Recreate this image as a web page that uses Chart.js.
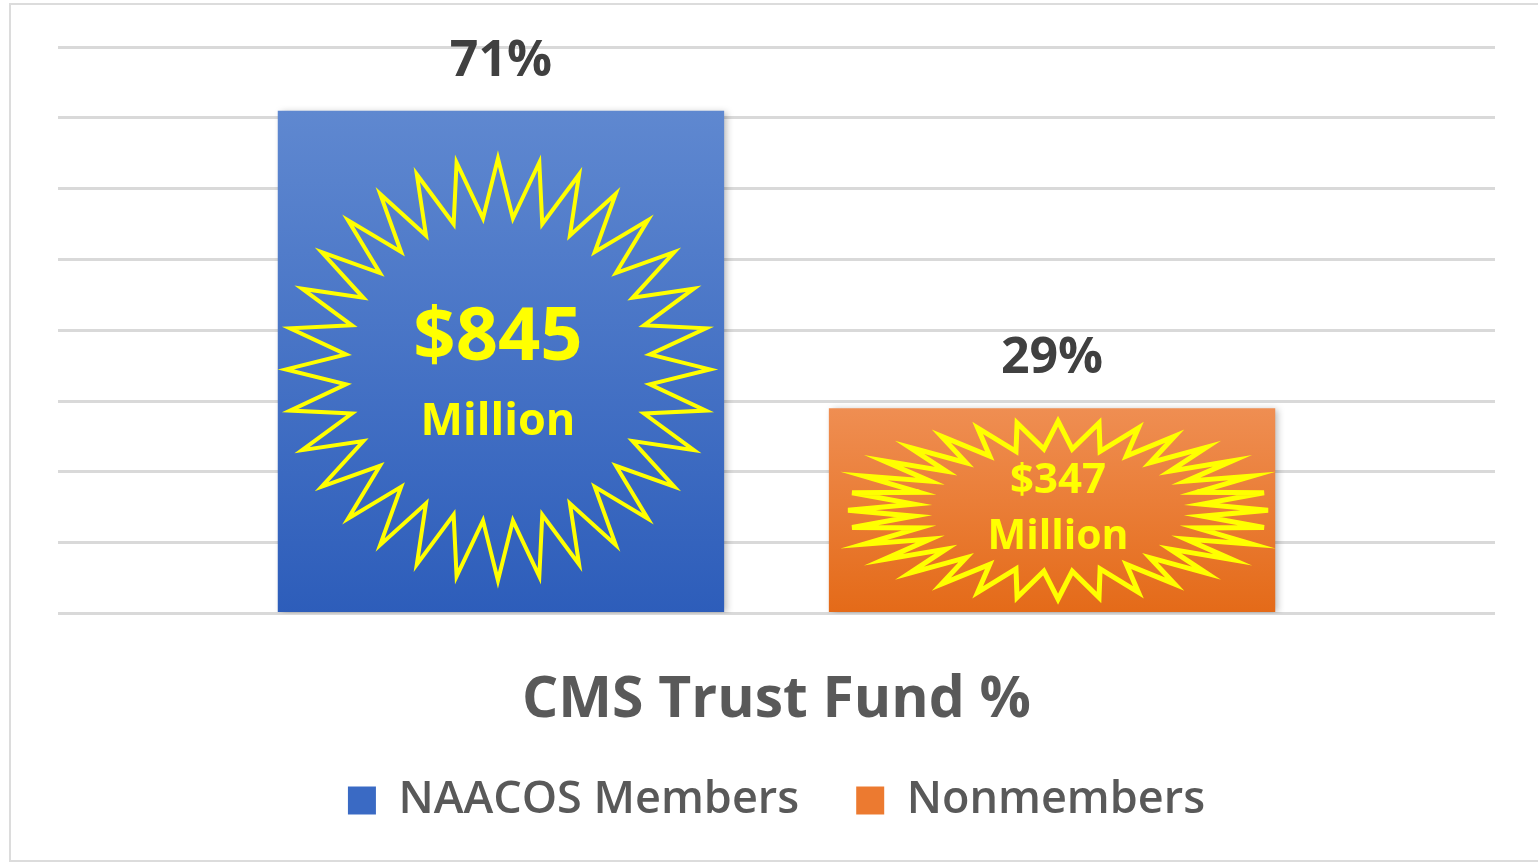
<!DOCTYPE html>
<html>
<head>
<meta charset="utf-8">
<script src="https://cdn.jsdelivr.net/npm/chart.js@4"></script>
<style>
  html, body { margin: 0; padding: 0; background: #ffffff; }
  #wrap { position: absolute; left: 0; top: 0; width: 1538px; height: 863px; }
</style>
</head>
<body>
<div id="wrap"><canvas id="myChart"></canvas></div>
<script>
// data
const categories = ["CMS Trust Fund %"];
const seriesNames = ["NAACOS Members", "Nonmembers"];
const members = [71];
const nonmembers = [29];
const burstAmounts = ["$845", "$347"];
const burstUnit = "Million";

const fontNaam = "'Open Sans', 'DejaVu Sans', sans-serif";
const tekstGrijs = "#595959";

function balkKleur(top, bottom) {
  return (ctx) => {
    const chart = ctx.chart;
    const area = chart.chartArea;
    if (!area || ctx.raw === undefined) return bottom;
    const y = chart.scales.y.getPixelForValue(ctx.raw);
    const g = chart.ctx.createLinearGradient(0, y, 0, area.bottom);
    g.addColorStop(0, top);
    g.addColorStop(1, bottom);
    return g;
  };
}

// frame around the whole chart
const kader = {
  id: "kader",
  beforeDraw(chart) {
    const c = chart.ctx;
    c.save();
    c.fillStyle = "#ffffff";
    c.fillRect(0, 0, chart.width, chart.height);
    c.strokeStyle = "#dcdcdc";
    c.lineWidth = 2;
    c.strokeRect(10, 4, chart.width + 20, chart.height - 6);
    c.restore();
  }
};

// soft shadow behind bars
const schaduw = {
  id: "schaduw",
  beforeDatasetDraw(chart) {
    const c = chart.ctx;
    c.save();
    c.shadowColor = "rgba(0,0,0,0.28)";
    c.shadowBlur = 7;
    c.shadowOffsetX = 3;
    c.shadowOffsetY = 1;
  },
  afterDatasetDraw(chart) {
    chart.ctx.restore();
  }
};

// percentage labels above bars
const procentLabels = {
  id: "procentLabels",
  afterDatasetsDraw(chart) {
    const c = chart.ctx;
    c.save();
    c.font = "bold 50px " + fontNaam;
    c.fillStyle = "#404040";
    c.textAlign = "center";
    c.textBaseline = "middle";
    chart.data.datasets.forEach((ds, i) => {
      const bar = chart.getDatasetMeta(i).data[0];
      c.fillText(ds.data[0] + "%", bar.x, bar.y - 49);
    });
    c.restore();
  }
};

// yellow starburst with amount text inside each bar
const sterren = {
  id: "sterren",
  afterDatasetsDraw(chart) {
    const c = chart.ctx;
    const instellingen = [
      { rx: 212, ry: 211, inner: 0.72, dx: -3, dy: 8, lw: 4,
        f1: "bold 74px ", o1: -30, f2: "bold 45px ", o2: 53 },
      { rx: 210, ry: 89, inner: 0.69, dx: 6, dy: 0, lw: 5,
        f1: "bold 42px ", o1: -29, f2: "bold 41px ", o2: 27 }
    ];
    c.save();
    chart.data.datasets.forEach((ds, i) => {
      const bar = chart.getDatasetMeta(i).data[0];
      const s = instellingen[i];
      const cx = bar.x + s.dx;
      const cy = (bar.y + bar.base) / 2 + s.dy;
      const n = 32;
      c.beginPath();
      for (let k = 0; k < n * 2; k++) {
        const a = -Math.PI / 2 + (k * Math.PI) / n;
        const f = k % 2 === 0 ? 1 : s.inner;
        const x = cx + Math.cos(a) * s.rx * f;
        const y = cy + Math.sin(a) * s.ry * f;
        if (k === 0) c.moveTo(x, y); else c.lineTo(x, y);
      }
      c.closePath();
      c.strokeStyle = "#ffff00";
      c.lineWidth = s.lw;
      c.lineJoin = "miter";
      c.stroke();

      c.fillStyle = "#ffff00";
      c.textAlign = "center";
      c.textBaseline = "middle";
      c.font = s.f1 + fontNaam;
      c.fillText(burstAmounts[i], cx, cy + s.o1);
      c.font = s.f2 + fontNaam;
      c.fillText(burstUnit, cx, cy + s.o2);
    });
    c.restore();
  }
};

const config = {
  type: "bar",
  data: {
    labels: categories,
    datasets: [
      {
        label: seriesNames[0],
        data: members,
        backgroundColor: balkKleur("#5f88d0", "#2d5dba"),
        borderWidth: 0
      },
      {
        label: seriesNames[1],
        data: nonmembers,
        backgroundColor: balkKleur("#ef8e52", "#e46a18"),
        borderWidth: 0
      }
    ]
  },
  options: {
    responsive: false,
    animation: false,
    devicePixelRatio: 1,
    categoryPercentage: 0.767,
    barPercentage: 0.81,
    layout: { padding: { left: 58, right: 43, top: 47, bottom: 30 } },
    scales: {
      x: {
        grid: { display: false, drawTicks: false },
        border: { display: false },
        afterFit(scale) {
          scale.height = scale.height - 32;
        },
        ticks: {
          padding: 53,
          color: tekstGrijs,
          font: { family: fontNaam, size: 57, weight: "bold" }
        }
      },
      y: {
        min: 0,
        max: 80,
        ticks: { display: false, stepSize: 10 },
        grid: { color: "#d9d9d9", lineWidth: 3, drawTicks: false },
        border: { display: false }
      }
    },
    plugins: {
      legend: {
        position: "bottom",
        labels: {
          color: tekstGrijs,
          font: { family: fontNaam, size: 45, weight: "600" },
          boxWidth: 28,
          boxHeight: 28,
          padding: 22,
          generateLabels(chart) {
            const kleuren = ["#3a6ac4", "#ec7a30"];
            return chart.data.datasets.map((ds, i) => ({
              text: i === 0 ? ds.label + "   " : ds.label,
              fillStyle: kleuren[i],
              strokeStyle: kleuren[i],
              lineWidth: 0,
              fontColor: tekstGrijs,
              datasetIndex: i,
              hidden: false
            }));
          }
        }
      },
      tooltip: { enabled: false }
    }
  },
  plugins: [kader, schaduw, procentLabels, sterren]
};

const canvas = document.getElementById("myChart");
canvas.width = 1538;
canvas.height = 863;
canvas.style.width = "1538px";
canvas.style.height = "863px";
const myChart = new Chart(canvas, config);
</script>
</body>
</html>
